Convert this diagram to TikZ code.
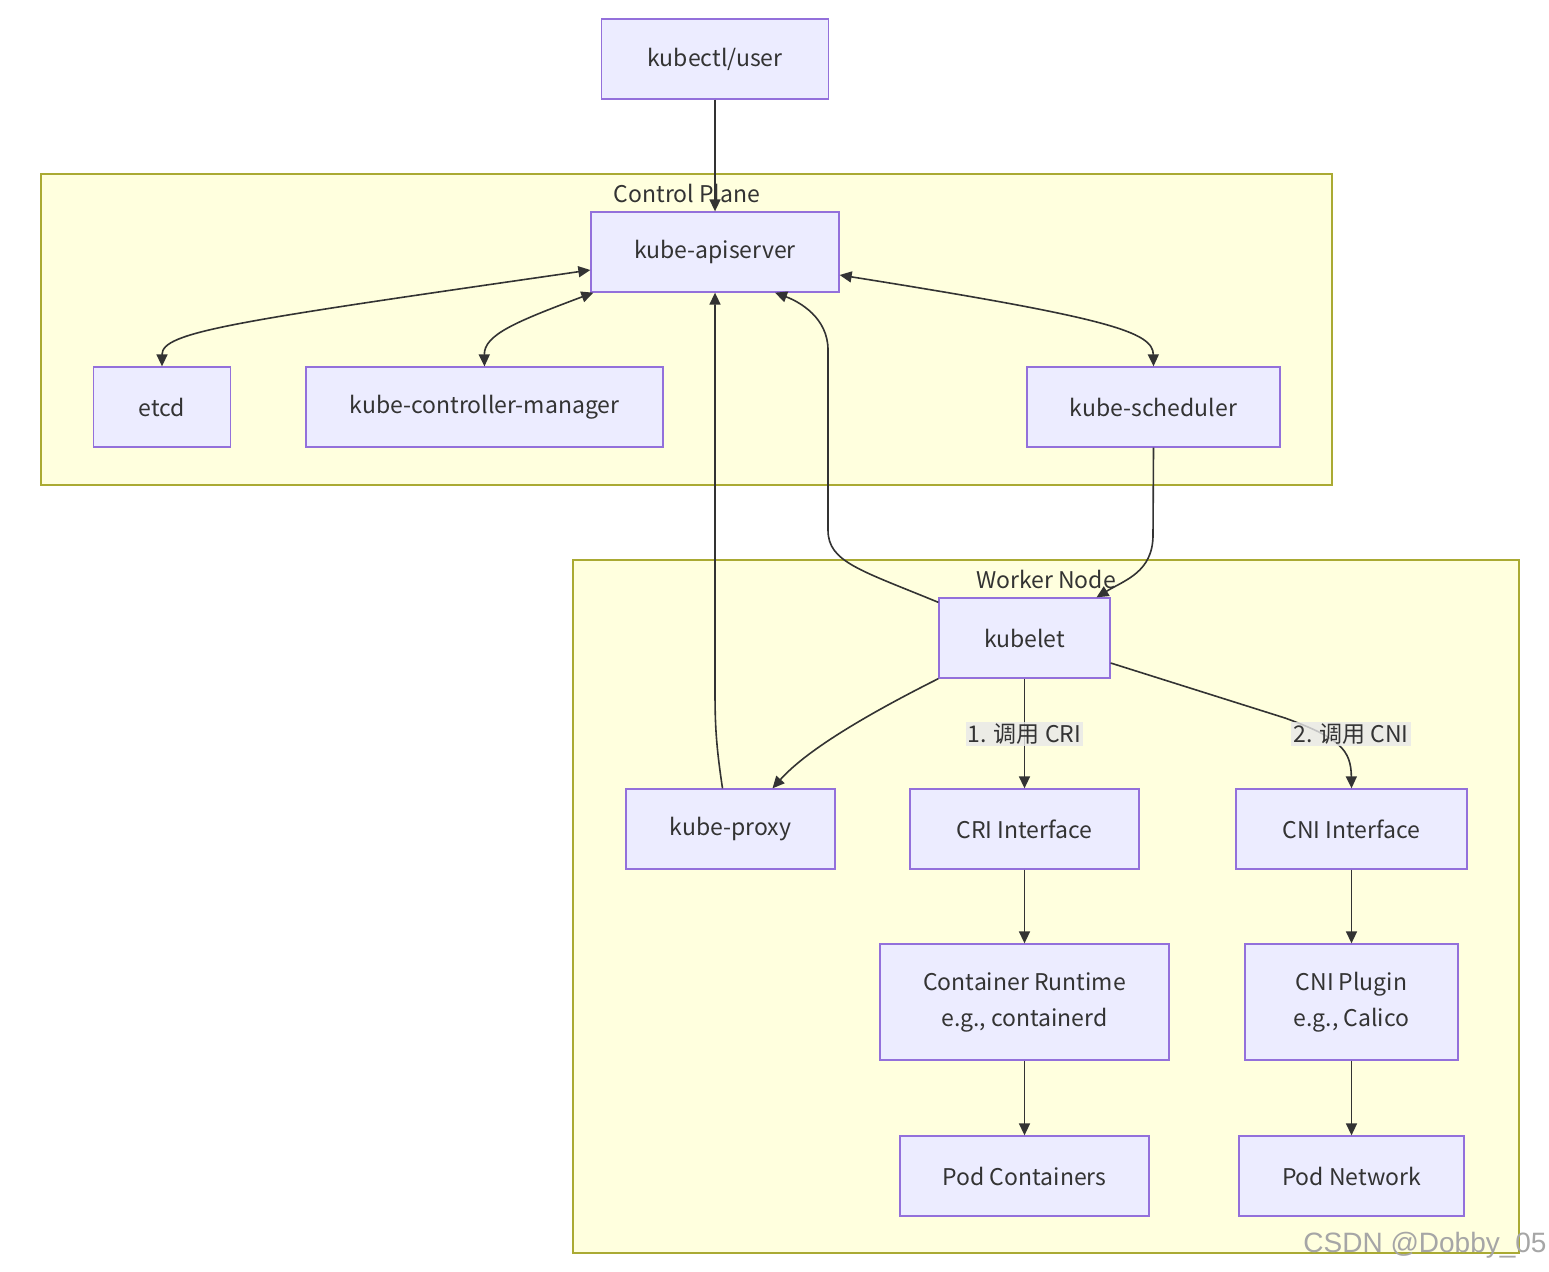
\documentclass[tikz,border=0pt]{standalone}
\usepackage{fontspec}
\setmainfont{Noto Sans CJK SC}
\newfontfamily\wmfont{Liberation Sans}
\usepackage{xcolor}
\usetikzlibrary{arrows.meta,positioning,calc}

\definecolor{nodefill}{HTML}{ECECFF}
\definecolor{nodeline}{HTML}{9370DB}
\definecolor{clusterfill}{HTML}{FFFFDE}
\definecolor{clusterline}{HTML}{AAAA33}
\definecolor{edgecol}{HTML}{333333}
\definecolor{labelbg}{HTML}{E8E8E8}

\begin{document}
\begin{tikzpicture}[
  x=1pt,y=-1pt,
  box/.style={draw=nodeline, line width=1.3pt, fill=nodefill, align=center, minimum height=80pt, inner sep=2pt, text=edgecol, font=\fontsize{23}{36}\selectfont},
  cluster/.style={draw=clusterline, line width=1.3pt, fill=clusterfill, inner sep=0pt},
  clabel/.style={text=edgecol, font=\fontsize{23}{27}\selectfont, inner sep=0pt},
  elabel/.style={fill=labelbg, fill opacity=0.8, text opacity=1, text=edgecol, inner sep=2pt, font=\fontsize{23}{27}\selectfont},
  arrow/.style={-{Triangle[length=12pt,width=11pt]}, line width=1.6pt, draw=edgecol},
  biarrow/.style={{Triangle[length=12pt,width=11pt]}-{Triangle[length=12pt,width=11pt]}, line width=1.6pt, draw=edgecol}
]
\useasboundingbox[fill=white] (0,0) rectangle (1549,1271);
% clusters
\node[cluster, minimum width=1291pt, minimum height=311pt] (cp) at (686.5,329.5) {};
\node[clabel] (cptitle) at (687,193) {Control Plane};
\node[cluster, minimum width=946pt, minimum height=693pt] (wn) at (1046,906.5) {};
\node[clabel] (wntitle) at (1046,579) {Worker Node};
% nodes
\node[box, minimum width=227pt] (user) at (715,59) {kubectl/user};
\node[box, minimum width=248pt] (api) at (715,252) {kube-apiserver};
\node[box, minimum width=137pt] (etcd) at (162,407) {etcd};
\node[box, minimum width=357pt] (cm) at (484.5,407) {kube-controller-manager};
\node[box, minimum width=253pt] (sched) at (1153.5,407) {kube-scheduler};
\node[box, minimum width=171pt] (kubelet) at (1024.5,638) {kubelet};
\node[box, minimum width=209pt] (proxy) at (730.5,829) {kube-proxy};
\node[box, minimum width=229pt] (cri) at (1024.5,829) {CRI Interface};
\node[box, minimum width=231pt] (cni) at (1351.5,829) {CNI Interface};
\node[box, minimum width=289pt, minimum height=116pt] (runtime) at (1024.5,1002) {Container Runtime\\e.g., containerd};
\node[box, minimum width=213pt, minimum height=116pt] (plugin) at (1351.5,1002) {CNI Plugin\\e.g., Calico};
\node[box, minimum width=249pt] (podc) at (1024.5,1176) {Pod Containers};
\node[box, minimum width=225pt] (podn) at (1351.5,1176) {Pod Network};
% edges
\draw[arrow] (user) -- (api);
\draw[biarrow] ([yshift=-18]api.west) .. controls (230,322) and (162,332) .. (etcd.north);
\draw[biarrow] ([xshift=3]api.south west) .. controls (515,322) and (484,335) .. (cm.north);
\draw[biarrow] ([yshift=-23]api.east) .. controls (1110,318) and (1153,332) .. (sched.north);
\draw[arrow] (sched.south) -- (1153,535) .. controls (1153,572) and (1125,580) .. ([xshift=72]kubelet.north);
\draw[arrow] ([yshift=-5]kubelet.north west) .. controls (860,570) and (828,562) .. (828,530) -- (828,350) .. controls (828,318) and (800,302) .. ([xshift=60]api.south);
\draw[arrow] (kubelet.south west) .. controls (860,718) and (805,752) .. ([xshift=42]proxy.north);
\draw[arrow] ([xshift=-8]proxy.north) .. controls (716,745) and (715,725) .. (715,690) -- (api.south);
\draw[arrow] (kubelet.south) -- (cri.north);
\draw[arrow] ([yshift=-25]kubelet.east) -- (1285,718) .. controls (1340,738) and (1351,750) .. (cni.north);
\node[elabel] (crilbl) at (1024.5,734) {1. 调用 CRI};
\node[elabel] (cnilbl) at (1351,734) {2. 调用 CNI};
\draw[arrow] (cri) -- (runtime);
\draw[arrow] (runtime) -- (podc);
\draw[arrow] (cni) -- (plugin);
\draw[arrow] (plugin) -- (podn);
% watermark
\node[text=black!35, font=\wmfont\fontsize{28}{32}\selectfont, inner sep=0pt] (mark) at (1425,1245) {CSDN @Dobby\_05};
\end{tikzpicture}
\end{document}
